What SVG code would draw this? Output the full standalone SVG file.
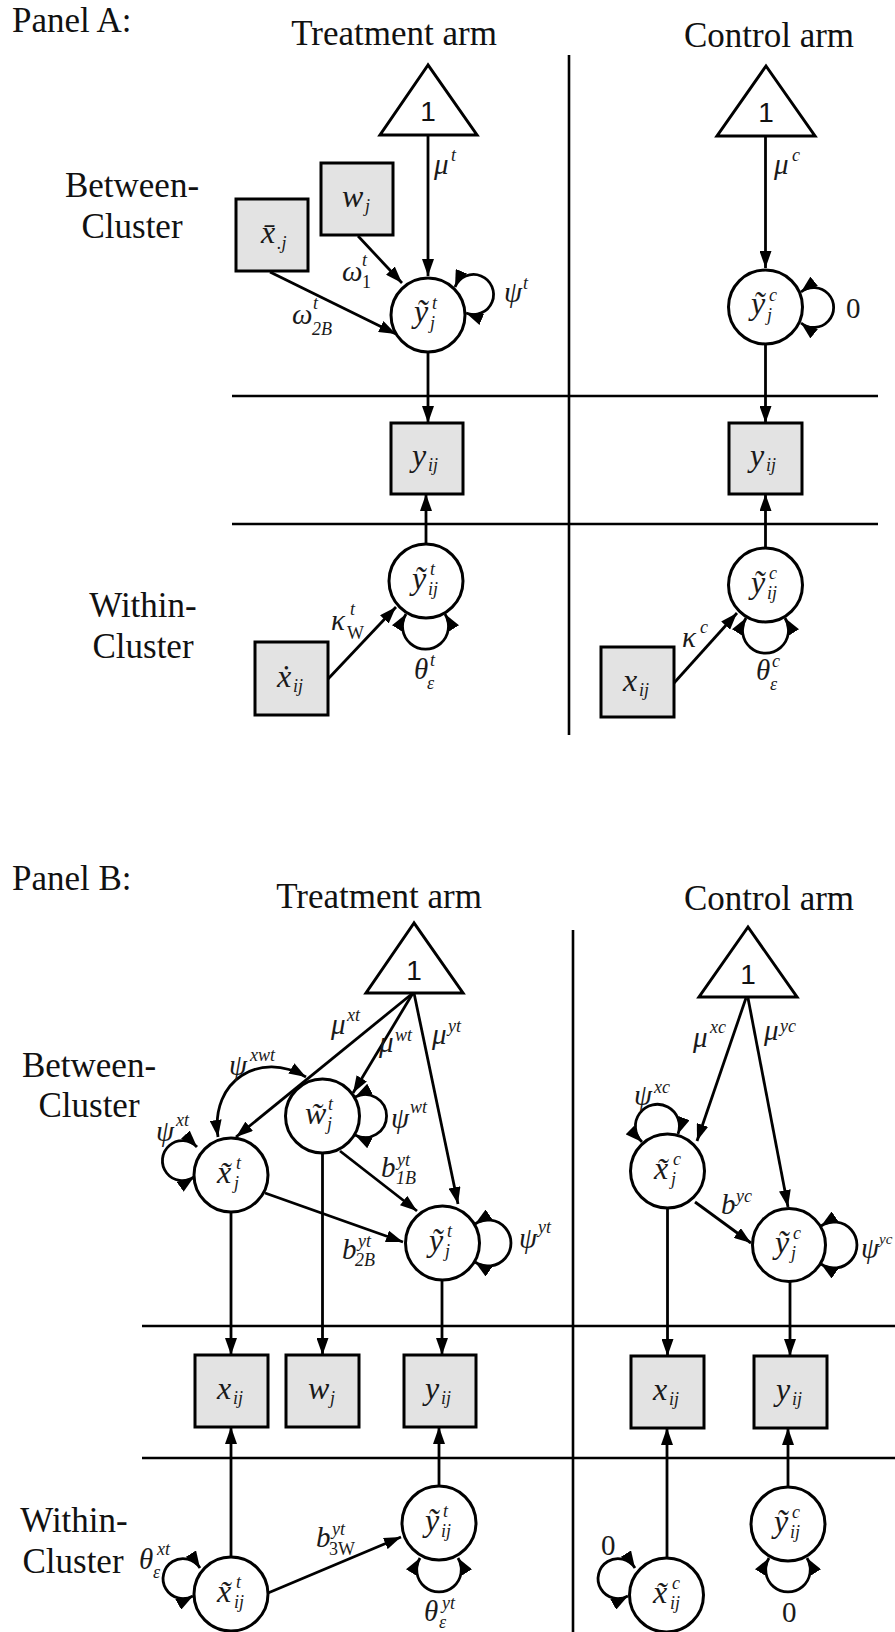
<svg xmlns="http://www.w3.org/2000/svg" width="895" height="1632" viewBox="0 0 895 1632">
<style>
.ttl{font-family:"Liberation Serif","Times New Roman",serif;font-size:35px;fill:#111}
.m{font-family:"Liberation Serif","Times New Roman",serif;font-style:italic;font-size:29px;fill:#1a1a1a}
.nl{font-family:"Liberation Serif","Times New Roman",serif;font-style:italic;font-size:32px;fill:#1a1a1a}
.s{font-family:"Liberation Serif","Times New Roman",serif;font-style:italic;font-size:18px;fill:#1a1a1a}
.su{font-family:"Liberation Serif","Times New Roman",serif;font-size:18px;fill:#1a1a1a}
.num{font-family:"Liberation Serif","Times New Roman",serif;font-size:29px;fill:#1a1a1a}
.one{font-family:"Liberation Sans",Arial,sans-serif;font-size:28px;fill:#111;text-anchor:middle}
.box{fill:#e3e3e3;stroke:#000;stroke-width:3}
.circ{fill:#fff;stroke:#000;stroke-width:3}
.tri{fill:#fff;stroke:#000;stroke-width:3}
.edge{fill:none;stroke:#000;stroke-width:2.8;marker-end:url(#ah)}
.dbl{fill:none;stroke:#000;stroke-width:2.8;marker-start:url(#ah);marker-end:url(#ah)}
.div{stroke:#000;stroke-width:2.6;fill:none}
.mid{text-anchor:middle}
</style>
<defs>
<marker id="ah" viewBox="0 0 17 12" refX="17" refY="6" markerWidth="17" markerHeight="12" markerUnits="userSpaceOnUse" orient="auto-start-reverse"><path d="M0,0 L17,6 L0,12 z" fill="#000"/></marker>
</defs>
<rect width="895" height="1632" fill="#fff"/>

<g id="headings">
<text class="ttl" x="12" y="32">Panel A:</text>
<text class="ttl mid" x="394" y="45">Treatment arm</text>
<text class="ttl mid" x="769" y="47">Control arm</text>
<text class="ttl mid" x="132" y="197">Between-</text>
<text class="ttl mid" x="132" y="238">Cluster</text>
<text class="ttl mid" x="143" y="617">Within-</text>
<text class="ttl mid" x="143" y="658">Cluster</text>
<text class="ttl" x="12" y="890">Panel B:</text>
<text class="ttl mid" x="379" y="908">Treatment arm</text>
<text class="ttl mid" x="769" y="910">Control arm</text>
<text class="ttl mid" x="89" y="1077">Between-</text>
<text class="ttl mid" x="89" y="1117">Cluster</text>
<text class="ttl mid" x="74" y="1532">Within-</text>
<text class="ttl mid" x="73" y="1573">Cluster</text>
</g>

<g id="dividers">
<line class="div" x1="569" y1="55" x2="569" y2="735"/>
<line class="div" x1="232" y1="396" x2="878" y2="396"/>
<line class="div" x1="232" y1="524" x2="878" y2="524"/>
<line class="div" x1="573" y1="930" x2="573" y2="1632"/>
<line class="div" x1="142" y1="1326" x2="895" y2="1326"/>
<line class="div" x1="142" y1="1458" x2="895" y2="1458"/>
</g>

<g id="connectors">
<!-- Panel A -->
<path class="edge" d="M428,135 L428,276"/>
<path class="edge" d="M358,236 L402,283"/>
<path class="edge" d="M270,272 L396,334"/>
<path class="dbl" d="M455,287 A20,20 0 1 1 466,313"/>
<path class="edge" d="M428,352 L428,423"/>
<path class="edge" d="M426,544 L426,494"/>
<path class="edge" d="M328,679 L396,607"/>
<path class="dbl" d="M406,614 A23,23 0 1 0 445,614"/>
<path class="edge" d="M765.5,136 L765.5,268"/>
<path class="dbl" d="M801,292 A20,20 0 1 1 801,323"/>
<path class="edge" d="M765.5,344 L765.5,423"/>
<path class="edge" d="M765.5,548 L765.5,494"/>
<path class="edge" d="M674,683 L737,613"/>
<path class="dbl" d="M746,618 A23,23 0 1 0 785,618"/>
<!-- Panel B treatment -->
<path class="edge" d="M413,993 L236,1137"/>
<path class="edge" d="M413,993 L353,1093"/>
<path class="edge" d="M414,993 L458,1204"/>
<path class="dbl" d="M218,1137 C210,1080 260,1050 306,1077"/>
<path class="dbl" d="M197,1147 A20,20 0 1 0 194,1177"/>
<path class="dbl" d="M355,1097 A21.5,21.5 0 1 1 355,1135"/>
<path class="edge" d="M265,1193 L403,1242"/>
<path class="edge" d="M340,1151 L417,1211"/>
<path class="dbl" d="M475,1224 A23,23 0 1 1 475,1262"/>
<path class="edge" d="M231,1212 L231,1355"/>
<path class="edge" d="M322.5,1153 L322.5,1355"/>
<path class="edge" d="M442,1280 L442,1355"/>
<path class="edge" d="M231,1557 L231,1427"/>
<path class="edge" d="M439,1486 L439,1427"/>
<path class="edge" d="M268,1593 L401,1537"/>
<path class="dbl" d="M200,1568 A20,20 0 1 0 193,1596"/>
<path class="dbl" d="M420,1558 A22.3,22.3 0 1 0 458,1558"/>
<!-- Panel B control -->
<path class="edge" d="M746,998 L697,1141"/>
<path class="edge" d="M748,998 L788,1207"/>
<path class="dbl" d="M642,1142 A22,22 0 1 1 678,1134"/>
<path class="edge" d="M695,1202 L751,1243"/>
<path class="dbl" d="M821,1226 A23,23 0 1 1 821,1264"/>
<path class="edge" d="M667.5,1208 L667.5,1356"/>
<path class="edge" d="M790,1282 L790,1356"/>
<path class="edge" d="M667,1558 L667,1428"/>
<path class="edge" d="M788,1487 L788,1428"/>
<path class="dbl" d="M635,1568 A20,20 0 1 0 628,1596"/>
<path class="dbl" d="M769,1558 A22.3,22.3 0 1 0 807,1558"/>

<!-- edge labels Panel A -->
<text class="m" x="434" y="174">μ</text><text class="s" x="451" y="161">t</text>
<text class="m" x="774" y="174">μ</text><text class="s" x="792" y="161">c</text>
<text class="m" x="342" y="281">ω</text><text class="s" x="362" y="266">t</text><text class="su" x="362" y="288">1</text>
<text class="m" x="292" y="324">ω</text><text class="s" x="313" y="309">t</text><text class="s" x="312" y="335">2B</text>
<text class="m" x="504" y="302">ψ</text><text class="s" x="523" y="289">t</text>
<text class="num" x="846" y="318">0</text>
<text class="m" x="331" y="630">κ</text><text class="s" x="350" y="615">t</text><text class="su" x="347" y="639">W</text>
<text class="m" x="682" y="647">κ</text><text class="s" x="700" y="633">c</text>
<text class="m" x="414" y="679">θ</text><text class="s" x="430" y="666">t</text><text class="s" x="427" y="689">ε</text>
<text class="m" x="756" y="680">θ</text><text class="s" x="772" y="667">c</text><text class="s" x="770" y="690">ε</text>
<!-- edge labels Panel B -->
<text class="m" x="331" y="1034">μ</text><text class="s" x="347" y="1021">xt</text>
<text class="m" x="379" y="1052">μ</text><text class="s" x="395" y="1041">wt</text>
<text class="m" x="432" y="1044">μ</text><text class="s" x="448" y="1032">yt</text>
<text class="m" x="229" y="1075">ψ</text><text class="s" x="250" y="1061">xwt</text>
<text class="m" x="156" y="1141">ψ</text><text class="s" x="176" y="1126">xt</text>
<text class="m" x="391" y="1128">ψ</text><text class="s" x="410" y="1113">wt</text>
<text class="m" x="381" y="1177">b</text><text class="s" x="397" y="1166">yt</text><text class="s" x="396" y="1184">1B</text>
<text class="m" x="342" y="1259">b</text><text class="s" x="358" y="1247">yt</text><text class="s" x="355" y="1266">2B</text>
<text class="m" x="519" y="1248">ψ</text><text class="s" x="538" y="1233">yt</text>
<text class="m" x="693" y="1047">μ</text><text class="s" x="710" y="1033">xc</text>
<text class="m" x="764" y="1040">μ</text><text class="s" x="780" y="1032">yc</text>
<text class="m" x="634" y="1105">ψ</text><text class="s" x="654" y="1093">xc</text>
<text class="m" x="721" y="1214">b</text><text class="s" x="736" y="1202">yc</text>
<text class="m" x="861" y="1258">ψ</text><text class="s" x="879" y="1244" style="font-size:15px">yc</text>
<text class="m" x="139" y="1569">θ</text><text class="s" x="157" y="1555">xt</text><text class="s" x="153" y="1578">ε</text>
<text class="m" x="316" y="1547">b</text><text class="s" x="332" y="1535">yt</text><text class="su" x="329" y="1555">3W</text>
<text class="m" x="424" y="1621">θ</text><text class="s" x="442" y="1609">yt</text><text class="s" x="439" y="1628">ε</text>
<text class="num" x="601" y="1555">0</text>
<text class="num" x="782" y="1622">0</text>
</g>

<!-- Panel A nodes -->
<g id="A_one_t"><polygon class="tri" points="428,65 380,135 477,135"/><text class="one" x="428" y="121">1</text></g>
<g id="A_one_c"><polygon class="tri" points="766,66 717,136 815,136"/><text class="one" x="766" y="122">1</text></g>
<g id="A_wj"><rect class="box" x="321" y="163" width="72" height="72"/><text class="nl" x="342" y="207">w</text><text class="s" x="365" y="212">j</text></g>
<g id="A_xbar"><rect class="box" x="236" y="199" width="72" height="72"/><text class="nl" x="261" y="243">x&#x304;</text><text class="s" x="277" y="249">.j</text></g>
<g id="A_yjt"><circle class="circ" cx="428" cy="315" r="37"/><text class="nl" x="414" y="322">&#x1EF9;</text><text class="s" x="432" y="309">t</text><text class="s" x="430" y="329">j</text></g>
<g id="A_yjc"><circle class="circ" cx="765.5" cy="307" r="37"/><text class="nl" x="751" y="314">&#x1EF9;</text><text class="s" x="769" y="301">c</text><text class="s" x="767" y="321">j</text></g>
<g id="A_yt"><rect class="box" x="391" y="423" width="72" height="71"/><text class="nl" x="412" y="466">y</text><text class="s" x="428" y="471">ij</text></g>
<g id="A_yc"><rect class="box" x="729" y="423" width="73" height="71"/><text class="nl" x="750" y="466">y</text><text class="s" x="766" y="471">ij</text></g>
<g id="A_yijt"><circle class="circ" cx="426" cy="581" r="37"/><text class="nl" x="412" y="589">&#x1EF9;</text><text class="s" x="430" y="575">t</text><text class="s" x="428" y="595">ij</text></g>
<g id="A_yijc"><circle class="circ" cx="765.5" cy="585" r="37"/><text class="nl" x="751" y="593">&#x1EF9;</text><text class="s" x="769" y="579">c</text><text class="s" x="767" y="599">ij</text></g>
<g id="A_xdot"><rect class="box" x="255" y="642" width="73" height="73"/><text class="nl" x="277" y="687">&#x1E8B;</text><text class="s" x="293" y="692">ij</text></g>
<g id="A_xc"><rect class="box" x="601" y="647" width="73" height="70"/><text class="nl" x="623" y="691">x</text><text class="s" x="639" y="696">ij</text></g>

<!-- Panel B nodes -->
<g id="B_one_t"><polygon class="tri" points="414,923 366,993 463,993"/><text class="one" x="414" y="980">1</text></g>
<g id="B_one_c"><polygon class="tri" points="748,927 699,997 797,997"/><text class="one" x="748" y="984">1</text></g>
<g id="B_xjt"><circle class="circ" cx="231" cy="1175" r="37"/><text class="nl" x="217" y="1183">x&#x303;</text><text class="s" x="236" y="1169">t</text><text class="s" x="234" y="1189">j</text></g>
<g id="B_wjt"><circle class="circ" cx="322.5" cy="1116" r="37"/><text class="nl" x="305" y="1124">w&#x303;</text><text class="s" x="328" y="1110">t</text><text class="s" x="327" y="1130">j</text></g>
<g id="B_yjt"><circle class="circ" cx="442.5" cy="1243" r="37"/><text class="nl" x="429" y="1251">&#x1EF9;</text><text class="s" x="447" y="1237">t</text><text class="s" x="445" y="1257">j</text></g>
<g id="B_xjc"><circle class="circ" cx="667.5" cy="1171" r="37"/><text class="nl" x="654" y="1179">x&#x303;</text><text class="s" x="673" y="1165">c</text><text class="s" x="671" y="1185">j</text></g>
<g id="B_yjc"><circle class="circ" cx="789" cy="1245" r="36.5"/><text class="nl" x="775" y="1253">&#x1EF9;</text><text class="s" x="793" y="1239">c</text><text class="s" x="791" y="1259">j</text></g>
<g id="B_xt"><rect class="box" x="195" y="1355" width="73" height="72"/><text class="nl" x="217" y="1399">x</text><text class="s" x="233" y="1404">ij</text></g>
<g id="B_w"><rect class="box" x="286" y="1355" width="73" height="72"/><text class="nl" x="308" y="1399">w</text><text class="s" x="330" y="1404">j</text></g>
<g id="B_yt"><rect class="box" x="404" y="1355" width="72" height="72"/><text class="nl" x="425" y="1399">y</text><text class="s" x="441" y="1404">ij</text></g>
<g id="B_xc"><rect class="box" x="631" y="1356" width="73" height="72"/><text class="nl" x="653" y="1400">x</text><text class="s" x="669" y="1405">ij</text></g>
<g id="B_yc"><rect class="box" x="754" y="1356" width="73" height="72"/><text class="nl" x="776" y="1400">y</text><text class="s" x="792" y="1405">ij</text></g>
<g id="B_xijt"><circle class="circ" cx="231" cy="1594" r="37"/><text class="nl" x="217" y="1602">x&#x303;</text><text class="s" x="236" y="1588">t</text><text class="s" x="234" y="1608">ij</text></g>
<g id="B_yijt"><circle class="circ" cx="439" cy="1523" r="37"/><text class="nl" x="425" y="1531">&#x1EF9;</text><text class="s" x="443" y="1517">t</text><text class="s" x="441" y="1537">ij</text></g>
<g id="B_xijc"><circle class="circ" cx="666.5" cy="1595" r="37"/><text class="nl" x="653" y="1603">x&#x303;</text><text class="s" x="672" y="1589">c</text><text class="s" x="670" y="1609">ij</text></g>
<g id="B_yijc"><circle class="circ" cx="788" cy="1524" r="37"/><text class="nl" x="774" y="1532">&#x1EF9;</text><text class="s" x="792" y="1518">c</text><text class="s" x="790" y="1538">ij</text></g>
</svg>
